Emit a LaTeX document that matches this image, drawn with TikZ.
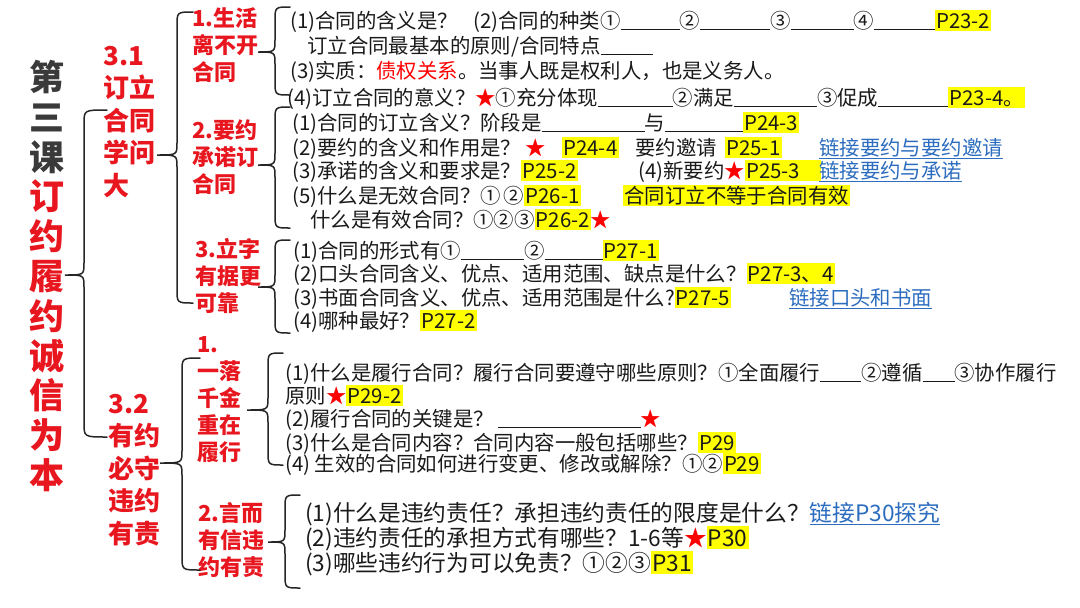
\documentclass[tikz,border=0pt]{standalone}
\usepackage{fontspec}
\setmainfont{Noto Sans CJK SC}
\definecolor{hdred}{HTML}{E8161E}
\definecolor{ttlgray}{HTML}{3A3A3A}
\definecolor{bodyblk}{HTML}{1A1A1A}
\definecolor{hlyel}{HTML}{FFFF00}
\definecolor{lnkblue}{HTML}{2C6DBF}
\definecolor{brcol}{HTML}{262626}
\newcommand{\blk}[1]{\rule[-1.5pt]{#1pt}{0.9pt}}
\newcommand{\hl}[1]{{\setlength{\fboxsep}{1.2pt}\colorbox{hlyel}{\vphantom{汉}#1}}}
\newcommand{\rstar}{\textcolor{red}{★}}
\newcommand{\lnk}[1]{\textcolor{lnkblue}{\underline{#1}}}
\newcommand{\cbrace}[6]{\draw[brc] (#6,#4) .. controls (#3,#4) .. (#3,#4+14) -- (#3,#2-12) .. controls (#3,#2) .. (#1,#2) .. controls (#3,#2) .. (#3,#2+12) -- (#3,#5-14) .. controls (#3,#5) .. (#6,#5);}
\tikzset{
  txt/.style={anchor=base west, inner sep=0pt, text=bodyblk, font=\fontsize{20.4}{24}\selectfont},
  txtb/.style={txt, font=\fontsize{22.7}{25}\selectfont},
  head/.style={anchor=west, inner sep=0pt, align=left, text=hdred, font=\bfseries\fontsize{22}{27}\selectfont},
  bighead/.style={head, font=\bfseries\fontsize{26}{32.5}\selectfont},
  brc/.style={draw=brcol, line width=1.5pt, line cap=round},
}
\begin{document}
\begin{tikzpicture}[x=1pt,y=-1pt]
\useasboundingbox[fill=white] (0,0) rectangle (1080,608);
\node[inner sep=0pt, align=center, font=\bfseries\fontsize{35}{39.8}\selectfont] (title) at (47,276) {\textcolor{ttlgray}{第}\\\textcolor{ttlgray}{三}\\\textcolor{ttlgray}{课}\\\textcolor{hdred}{订}\\\textcolor{hdred}{约}\\\textcolor{hdred}{履}\\\textcolor{hdred}{约}\\\textcolor{hdred}{诚}\\\textcolor{hdred}{信}\\\textcolor{hdred}{为}\\\textcolor{hdred}{本}};
\node[bighead] (s31) at (103,122) {3.1\\订立\\合同\\学问\\大};
\node[bighead] (s32) at (108,470) {3.2\\有约\\必守\\违约\\有责};
\node[head] (g1) at (192,45) {1.生活\\离不开\\合同};
\node[head] (g2) at (192,157) {2.要约\\承诺订\\合同};
\node[head] (g3) at (195,276) {3.立字\\有据更\\可靠};
\node[head] (g4) at (197,400) {1.\\一落\\千金\\重在\\履行};
\node[head] (g5) at (198,540) {2.言而\\有信违\\约有责};
\cbrace{65}{275}{84}{110}{437}{107}
\cbrace{157}{155}{177}{12}{303}{193}
\cbrace{160}{463}{182}{358}{570}{200}
\cbrace{258}{52}{275}{7}{95}{290}
\cbrace{258}{165}{275}{107}{228}{290}
\cbrace{258}{287}{275}{240}{333}{290}
\cbrace{247}{410}{268}{353}{465}{283}
\cbrace{268}{542}{285}{495}{588}{300}
\node[txt] (a1) at (290,28) {(1)合同的含义是？};
\node[txt] (a2) at (473,28) {(2)合同的种类①\blk{59}②\blk{70}③\blk{63}④\blk{61}\hl{P23-2}};
\node[txt] (a3) at (307,53) {订立合同最基本的原则/合同特点\blk{52}};
\node[txt] (a4) at (290,78) {(3)实质：\textcolor{red}{债权关系}。当事人既是权利人，也是义务人。};
\node[txt] (a5) at (287,105) {(4)订立合同的意义？\rstar①充分体现\blk{75}②满足\blk{83}③促成\blk{70}\hl{P23-4。}};
\node[txt] (b1) at (292,130) {(1)合同的订立含义？阶段是\blk{103}与\blk{78}\hl{P24-3}};
\node[txt] (b2) at (292,155) {(2)要约的含义和作用是？\hspace{4pt}\rstar};
\node[txt] (b2p) at (562,155) {\hl{P24-4}};
\node[txt] (b2q) at (635,155) {要约邀请};
\node[txt] (b2r) at (725,155) {\hl{P25-1}};
\node[txt] (b2l) at (819,155) {\lnk{链接要约与要约邀请}};
\node[txt] (b3) at (292,178) {(3)承诺的含义和要求是？\hl{P25-2}};
\node[txt] (b3b) at (638,178) {(4)新要约\rstar\hl{P25-3\hspace{20pt}}};
\node[txt] (b3l) at (819,178) {\lnk{链接要约与承诺}};
\node[txt] (b4) at (292,203) {(5)什么是无效合同？①\hspace{3pt}②\hl{P26-1}};
\node[txt] (b4b) at (623,203) {\hl{合同订立不等于合同有效}};
\node[txt] (b5) at (310,227) {什么是有效合同？①②③\hl{P26-2}\rstar};
\node[txt] (c1) at (293,258) {(1)合同的形式有①\blk{63}②\blk{58}\hl{P27-1}};
\node[txt] (c2) at (293,281) {(2)口头合同含义、优点、适用范围、缺点是什么？\hl{P27-3、4}};
\node[txt] (c3) at (293,305) {(3)书面合同含义、优点、适用范围是什么?\hl{P27-5}};
\node[txt] (c3l) at (789,305) {\lnk{链接口头和书面}};
\node[txt] (c4) at (293,328) {(4)哪种最好？\hl{P27-2}};
\node[txt] (d1) at (285,380) {(1)什么是履行合同？履行合同要遵守哪些原则？①全面履行\blk{41}②遵循\blk{32}③协作履行};
\node[txt] (d2) at (285,403) {原则\rstar\hl{P29-2}};
\node[txt] (d3) at (285,426) {(2)履行合同的关键是？\hspace{4pt}\blk{143}\rstar};
\node[txt] (d4) at (285,450) {(3)什么是合同内容？合同内容一般包括哪些？\hl{P29}};
\node[txt] (d5) at (285,471) {(4) 生效的合同如何进行变更、修改或解除？①②\hl{P29}};
\node[txtb] (e1) at (305,521) {(1)什么是违约责任？承担违约责任的限度是什么？\lnk{链接P30探究}};
\node[txtb] (e2) at (305,546) {(2)违约责任的承担方式有哪些？1-6等\rstar\hl{P30}};
\node[txtb] (e3) at (305,571) {(3)哪些违约行为可以免责？①②③\hl{P31}};
\end{tikzpicture}
\end{document}
